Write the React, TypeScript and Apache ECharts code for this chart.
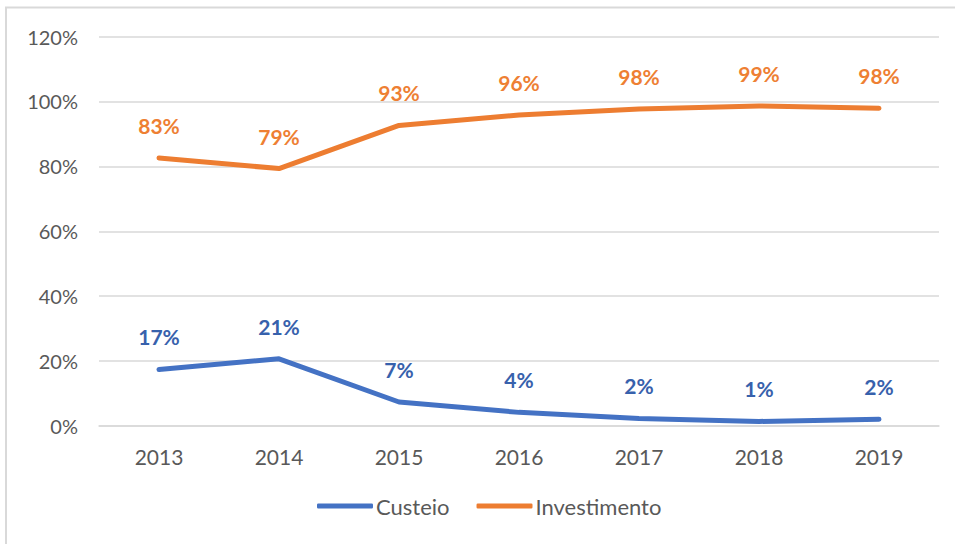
import React, { useEffect, useRef } from "react";
import * as echarts from "echarts";

const years = ["2013", "2014", "2015", "2016", "2017", "2018", "2019"];
const custeio = [17.4, 20.7, 7.4, 4.2, 2.3, 1.4, 2.1];
const investimento = [82.6, 79.3, 92.6, 95.8, 97.7, 98.6, 97.9];

const BLUE = "#4472C4";
const ORANGE = "#ED7D31";
const BLUE_LABEL = "#3761AC";
const ORANGE_LABEL = "#EE7F33";
const FONT = "Lato, 'Open Sans', sans-serif";

export default function App() {
  const ref = useRef<HTMLDivElement>(null);
  useEffect(() => {
    if (!ref.current) return;
    const chart = echarts.init(ref.current, null, { renderer: "svg" });
    const labelFor = (color: string) => ({
      show: true,
      position: "top" as const,
      distance: 22,
      color,
      fontFamily: FONT,
      fontWeight: "bold" as const,
      fontSize: 21,
      formatter: (p: any) => Math.round(p.value) + "%",
    });
    chart.setOption({
      animation: false,
      backgroundColor: "#ffffff",
      textStyle: { fontFamily: FONT },
      graphic: [
        {
          type: "polyline",
          shape: { points: [[6, 560], [6, 7.5], [960, 7.5]] },
          style: { stroke: "#d9d9d9", lineWidth: 2, fill: "none" },
          silent: true,
        },
      ],
      grid: { left: 99, right: 16, top: 36.5, bottom: 118 },
      legend: {
        bottom: 22,
        left: 312,
        itemWidth: 56,
        itemHeight: 5,
        itemGap: 27,
        icon: "roundRect",
        textStyle: { color: "#595959", fontSize: 22, fontFamily: FONT, padding: [0, 0, 0, -2] },
        data: ["Custeio", "Investimento"],
      },
      xAxis: {
        type: "category",
        data: years,
        boundaryGap: true,
        axisLine: { show: true, lineStyle: { color: "#d9d9d9", width: 1.5 } },
        axisTick: { show: false },
        axisLabel: { color: "#595959", fontSize: 21, margin: 20, fontFamily: FONT },
      },
      yAxis: {
        type: "value",
        min: 0,
        max: 120,
        interval: 20,
        axisLine: { show: false },
        axisTick: { show: false },
        splitLine: { lineStyle: { color: "#d9d9d9", width: 1.5 } },
        axisLabel: {
          color: "#595959",
          fontSize: 20,
          margin: 21,
          fontFamily: FONT,
          formatter: (v: number) => v + "%",
        },
      },
      series: [
        {
          name: "Custeio",
          type: "line",
          data: custeio,
          symbol: "circle",
          symbolSize: 0.1,
          showSymbol: true,
          lineStyle: { color: BLUE, width: 5, cap: "round", join: "round" },
          itemStyle: { color: BLUE },
          label: labelFor(BLUE_LABEL),
        },
        {
          name: "Investimento",
          type: "line",
          data: investimento,
          symbol: "circle",
          symbolSize: 0.1,
          showSymbol: true,
          lineStyle: { color: ORANGE, width: 5, cap: "round", join: "round" },
          itemStyle: { color: ORANGE },
          label: labelFor(ORANGE_LABEL),
        },
      ],
    });
    return () => chart.dispose();
  }, []);
  return (
    <div
      ref={ref}
      style={{ position: "absolute", left: 0, top: 0, width: 955, height: 544 }}
    />
  );
}
